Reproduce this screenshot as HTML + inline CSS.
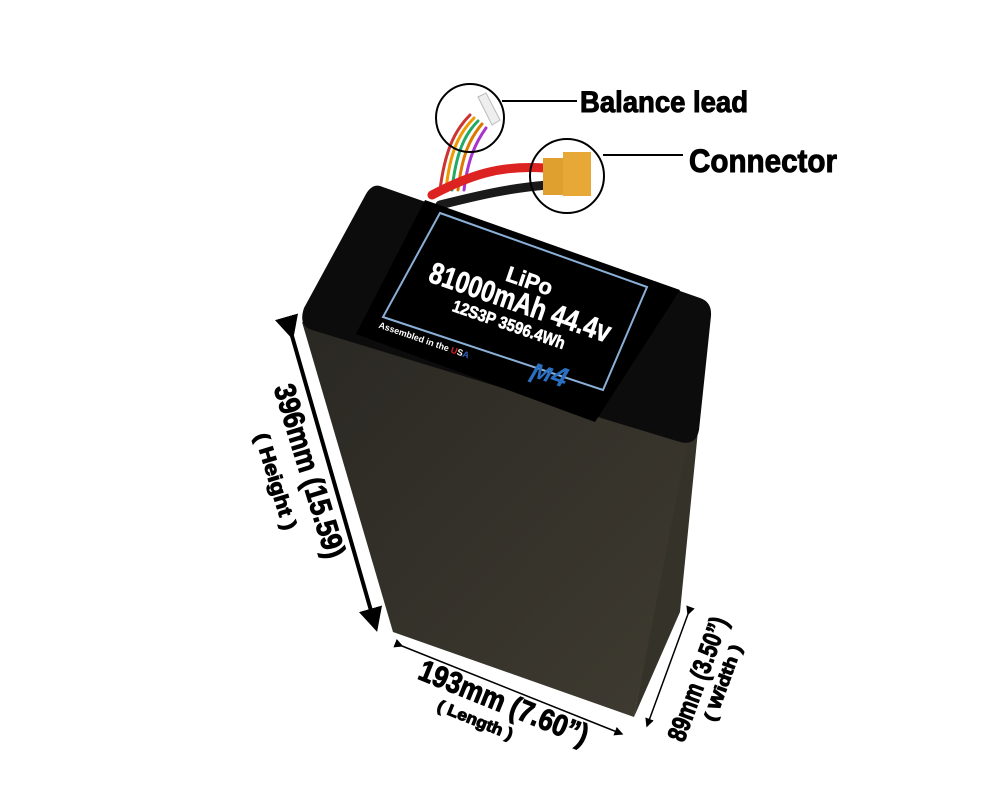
<!DOCTYPE html>
<html><head><style>
body{margin:0;background:#fff;width:1000px;height:800px;overflow:hidden}
text{font-family:"Liberation Sans Narrow","Liberation Sans",sans-serif;font-weight:bold}
.h{stroke:#000;stroke-width:1}
.w{stroke:#fff;stroke-width:0.6}
</style></head><body>
<svg width="1000" height="800" viewBox="0 0 1000 800" xmlns="http://www.w3.org/2000/svg">
<defs>
<marker id="ah" markerWidth="6" markerHeight="6" refX="5" refY="3" orient="auto"><path d="M0,0 L6,3 L0,6 z" fill="#000"/></marker>
<linearGradient id="bg" x1="0" y1="0" x2="1" y2="1"><stop offset="0" stop-color="#2a2823"/><stop offset="1" stop-color="#3f3b31"/></linearGradient>
</defs>
<g fill="none" stroke-linecap="round">
<path d="M440,190 C445,150 455,130 470,115" stroke="#c33" stroke-width="3"/>
<path d="M446,190 C450,150 460,132 474,118" stroke="#e90" stroke-width="3"/>
<path d="M452,190 C456,152 465,134 478,121" stroke="#2a6" stroke-width="3"/>
<path d="M458,190 C462,155 470,138 482,124" stroke="#d70" stroke-width="3"/>
<path d="M464,190 C468,158 476,142 486,128" stroke="#a3c" stroke-width="3"/>
<path d="M432,195 C470,175 500,165 545,168" stroke="#d22" stroke-width="9"/>
<path d="M440,205 C480,195 510,188 548,185" stroke="#1a1a1a" stroke-width="9"/>
</g>
<polygon points="478,97 486,93 500,120 492,125" fill="#eee" stroke="#bbb"/>
<rect x="543" y="158" width="24" height="37" fill="#e0a030"/>
<rect x="563" y="152" width="28" height="44" fill="#e8a838"/>
<circle cx="470" cy="118" r="34" fill="none" stroke="#000" stroke-width="2"/>
<circle cx="567" cy="176" r="37" fill="none" stroke="#000" stroke-width="2"/>
<line x1="502" y1="101" x2="577" y2="101" stroke="#000" stroke-width="2"/>
<line x1="603" y1="155" x2="683" y2="155" stroke="#000" stroke-width="2"/>
<text class="h" x="580" y="112" font-size="30" textLength="168" lengthAdjust="spacingAndGlyphs">Balance lead</text>
<text class="h" x="689" y="172" font-size="32" textLength="148" lengthAdjust="spacingAndGlyphs">Connector</text>
<polygon points="302,322 690,440 634,717 393,632" fill="url(#bg)"/>
<polygon points="690,430 708,330 680,612 634,717" fill="#353229"/>
<path d="M380,186 Q372,184 366,194 L304,308 Q298,326 312,330 L680,442 Q696,446 699,430 L711,316 Q712,302 700,298 Z" fill="#0c0c0c"/>
<polygon points="425,200 680,290 595,422 356,334" fill="#000"/>
<polygon points="440,213 647,287 603,390 383,317" fill="none" stroke="#8ab0d8" stroke-width="2"/>
<g fill="#fff" text-anchor="middle">
<text class="w" transform="translate(527,288) rotate(19)" font-size="22">LiPo</text>
<text class="w" transform="translate(517,312) rotate(19)" font-size="30" textLength="190" lengthAdjust="spacingAndGlyphs">81000mAh 44.4v</text>
<text class="w" transform="translate(507,330) rotate(19)" font-size="17" textLength="118" lengthAdjust="spacingAndGlyphs">12S3P 3596.4Wh</text>
<text transform="translate(423,343) rotate(19)" font-size="9" textLength="95" lengthAdjust="spacingAndGlyphs">Assembled in the <tspan fill="#d22">U</tspan>S<tspan fill="#36c">A</tspan></text>
<text transform="translate(547,382) rotate(19)" font-size="28" fill="#2a6fc0" font-style="italic">ϻ4</text>
</g>
<line x1="292" y1="336" x2="376" y2="628" stroke="#000" stroke-width="4" marker-start="url(#ah)" marker-end="url(#ah)"/>
<line x1="402" y1="646" x2="622" y2="734" stroke="#000" stroke-width="1.5" marker-start="url(#ah)" marker-end="url(#ah)"/>
<line x1="688" y1="614" x2="647" y2="726" stroke="#000" stroke-width="1.5" marker-start="url(#ah)" marker-end="url(#ah)"/>
<g transform="translate(300,474) rotate(73)" text-anchor="middle">
<text class="h" x="0" y="0" font-size="30" textLength="180" lengthAdjust="spacingAndGlyphs">396mm (15.59)</text>
<text class="h" x="0" y="32" font-size="20" textLength="100" lengthAdjust="spacingAndGlyphs">( Height )</text>
</g>
<g transform="translate(500,712) rotate(22)" text-anchor="middle">
<text class="h" x="0" y="0" font-size="30" textLength="180" lengthAdjust="spacingAndGlyphs">193mm (7.60”)</text>
<text class="h" x="-20" y="22" font-size="16" textLength="80" lengthAdjust="spacingAndGlyphs">( Length )</text>
</g>
<g transform="translate(706,682) rotate(-70)" text-anchor="middle">
<text class="h" x="0" y="0" font-size="26" textLength="130" lengthAdjust="spacingAndGlyphs">89mm (3.50”)</text>
<text class="h" x="5" y="22" font-size="17" textLength="80" lengthAdjust="spacingAndGlyphs">( Width )</text>
</g>
</svg>
</body></html>
